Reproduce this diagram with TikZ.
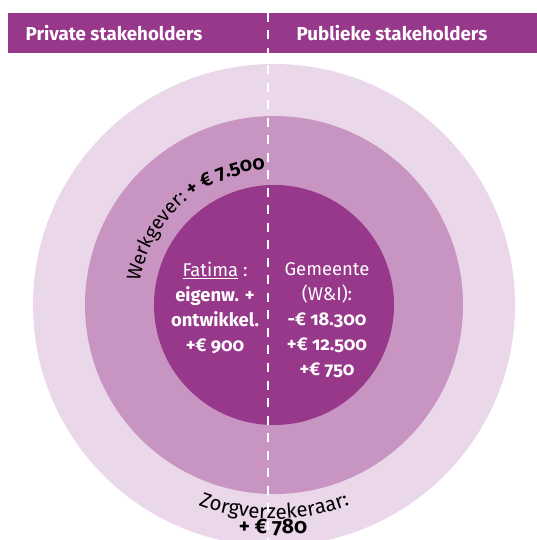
\documentclass[tikz,border=0pt]{standalone}
\usepackage{fontspec}
\setmainfont{Fira Sans}[Numbers=OldStyle]
\usetikzlibrary{decorations.text}
\definecolor{paars}{RGB}{152,56,139}
\definecolor{midpaars}{RGB}{200,148,194}
\definecolor{lichtpaars}{RGB}{234,215,233}
\begin{document}
\begin{tikzpicture}
[x=1bp,y=1bp,
  headtext/.style={text=white,font=\fontsize{18.8}{22}\selectfont\bfseries},
  kerntext/.style={text=white,align=center,font=\fontsize{18.5}{25}\selectfont},
  splitdecorate/.style={white,line width=2.5bp,dash pattern=on 9bp off 8.5bp}]
\useasboundingbox (0,0) rectangle (537,540);
%% header bar
\fill[paars] (8,487) rectangle (537,527);
\node[headtext] (private) at (114,507) {Private stakeholders};
\node[headtext] (publiek) at (392,507) {Publieke stakeholders};
%% rings
\coordinate (c) at (274,235);
\foreach \straal/\kleur in {241/lichtpaars, 189/midpaars, 120/paars} {
  \fill[\kleur] (c) circle (\straal bp);
}
%% texts in the core
\node[kerntext] (fatima) at (215,232)
  {\underline{Fatima} :\\ \bfseries eigenw. +\\ \bfseries ontwikkel.\\ \bfseries +€ 900};
\node[kerntext] (gemeente) at (327,220)
  {Gemeente\\ (W\&I):\\ \bfseries -€ 18.300\\ \bfseries +€ 12.500\\ \bfseries +€ 750};
%% texts along the rings
\path[decorate,decoration={text along path,text align=center,
  text={|\fontsize{19.5}{22}\selectfont|Werkgever: |\fontsize{19.5}{22}\selectfont\bfseries|+ € 7.500}}]
  ([shift={(172:136bp)}]c) arc[start angle=172,end angle=92,radius=136bp];
\path[decorate,decoration={text along path,text align=center,
  text={|\fontsize{20.5}{22}\selectfont|Zorgverzekeraar:}}]
  ([shift={(246:214bp)}]c) arc[start angle=246,end angle=294,radius=214bp];
\node[anchor=base,font=\fontsize{21}{24}\selectfont\bfseries] (zorg) at (273,6) {+ € 780};
%% split line
\coordinate (splittop) at (268,527);
\coordinate (splitbot) at (268,0);
\draw[splitdecorate] (splittop) -- (splitbot);
\end{tikzpicture}
\end{document}
